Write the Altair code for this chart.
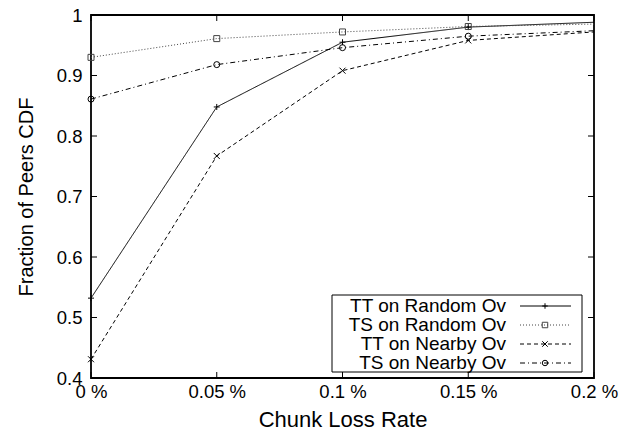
import altair as alt
import pandas as pd

# ---- data ----
loss_rate = [0, 0.05, 0.1, 0.15, 0.2]
series_names = ["TT on Random Ov", "TS on Random Ov", "TT on Nearby Ov", "TS on Nearby Ov"]
tt_random = [0.532, 0.848, 0.955, 0.980, 0.988]
ts_random = [0.930, 0.961, 0.972, 0.981, 0.985]
tt_nearby = [0.431, 0.767, 0.908, 0.958, 0.972]
ts_nearby = [0.861, 0.918, 0.946, 0.965, 0.974]
x_ticks = [0, 0.05, 0.1, 0.15, 0.2]
y_ticks = [0.4, 0.5, 0.6, 0.7, 0.8, 0.9, 1.0]

W, H = 503, 363
FONT = "Liberation Sans"

rows = []
for name, vals in zip(series_names, [tt_random, ts_random, tt_nearby, ts_nearby]):
    for r, v in zip(loss_rate, vals):
        rows.append({"series": name, "rate": r, "frac": v})
df = pd.DataFrame(rows)

legend_df = pd.DataFrame({"series": series_names, "idx": list(range(len(series_names)))})
xt_df = pd.DataFrame({"rate": x_ticks})
yt_df = pd.DataFrame({"frac": y_ticks})
box_df = pd.DataFrame({"k": [0]})

dash_scale = alt.Scale(domain=series_names, range=[[1, 0], [1, 2], [4, 3], [5, 3, 1, 3]])
color_scale = alt.Scale(domain=series_names, range=["#000000", "#444444", "#000000", "#000000"])
shape_scale = alt.Scale(
    domain=series_names,
    range=["M-1,0L1,0M0,-1L0,1", "square", "M-1,-1L1,1M1,-1L-1,1", "circle"],
)

x_scale = alt.Scale(domain=[0, 0.2], nice=False, zero=False)
y_scale = alt.Scale(domain=[0.4, 1.0], nice=False, zero=False)

x_axis = alt.Axis(
    values=x_ticks,
    labelExpr="datum.value + ' %'",
    title="Chunk Loss Rate",
    labelFlush=False,
    labelPadding=4,
    labelFontSize=18.5,
    titleFontSize=22,
    titlePadding=9,
)
y_axis = alt.Axis(
    values=y_ticks,
    labelExpr="datum.value == 1 ? '1' : format(datum.value, '.1f')",
    title="Fraction of Peers CDF",
    labelPadding=9,
    labelFontSize=18.5,
    titleFontSize=20,
    titlePadding=20,
)


def xe():
    return alt.X("rate:Q", scale=x_scale, axis=x_axis)


def ye():
    return alt.Y("frac:Q", scale=y_scale, axis=y_axis)


lines = alt.Chart(df).mark_line(strokeWidth=1).encode(
    x=xe(),
    y=ye(),
    strokeDash=alt.StrokeDash("series:N", scale=dash_scale, legend=None),
    color=alt.Color("series:N", scale=color_scale, legend=None),
    detail="series:N",
)

points = alt.Chart(df).transform_filter("datum.rate < 0.2").mark_point(
    filled=False, strokeWidth=1, size=36, opacity=1
).encode(
    x=xe(),
    y=ye(),
    shape=alt.Shape("series:N", scale=shape_scale, legend=None),
    color=alt.Color("series:N", scale=color_scale, legend=None),
)

tick_len = 6
tick_bottom = alt.Chart(xt_df).mark_rule(color="black", strokeWidth=1).encode(
    x=xe(), y=alt.value(H), y2=alt.value(H - tick_len)
)
tick_top = alt.Chart(xt_df).mark_rule(color="black", strokeWidth=1).encode(
    x=xe(), y=alt.value(0), y2=alt.value(tick_len)
)
tick_left = alt.Chart(yt_df).mark_rule(color="black", strokeWidth=1).encode(
    y=ye(), x=alt.value(0), x2=alt.value(tick_len)
)
tick_right = alt.Chart(yt_df).mark_rule(color="black", strokeWidth=1).encode(
    y=ye(), x=alt.value(W), x2=alt.value(W - tick_len)
)

# ---- legend box (labels on the left, samples on the right) ----
box = alt.Chart(box_df).mark_rect(fill="white", stroke="black", strokeWidth=1).encode(
    x=alt.value(241), x2=alt.value(491), y=alt.value(280), y2=alt.value(357)
)
leg_base = alt.Chart(legend_df).transform_calculate(ly="291 + 19 * datum.idx")
leg_text = leg_base.mark_text(
    align="right", baseline="middle", fontSize=19, font=FONT, color="black"
).encode(x=alt.value(415), y=alt.Y("ly:Q", scale=None), text="series:N")
leg_line = leg_base.mark_rule(strokeWidth=1).encode(
    x=alt.value(429),
    x2=alt.value(480),
    y=alt.Y("ly:Q", scale=None),
    strokeDash=alt.StrokeDash("series:N", scale=dash_scale, legend=None),
    color=alt.Color("series:N", scale=color_scale, legend=None),
)
leg_point = leg_base.mark_point(filled=False, strokeWidth=1, size=30, opacity=1).encode(
    x=alt.value(454),
    y=alt.Y("ly:Q", scale=None),
    shape=alt.Shape("series:N", scale=shape_scale, legend=None),
    color=alt.Color("series:N", scale=color_scale, legend=None),
)

chart = (
    alt.layer(
        lines, points, tick_bottom, tick_top, tick_left, tick_right,
        box, leg_line, leg_point, leg_text,
    )
    .properties(
        width=W,
        height=H,
        autosize=alt.AutoSizeParams(type="none"),
        padding={"left": 83, "top": 7, "right": 30, "bottom": 54},
        background="white",
    )
    .configure_view(stroke="black", strokeWidth=1.8)
    .configure_axis(
        tickSize=0,
        domain=False,
        grid=False,
        labelFont=FONT,
        labelColor="black",
        titleFont=FONT,
        titleFontWeight="normal",
        titleColor="black",
        labelOverlap=False,
    )
)

chart.save("out.html", embed_options={"renderer": "svg", "actions": False})
